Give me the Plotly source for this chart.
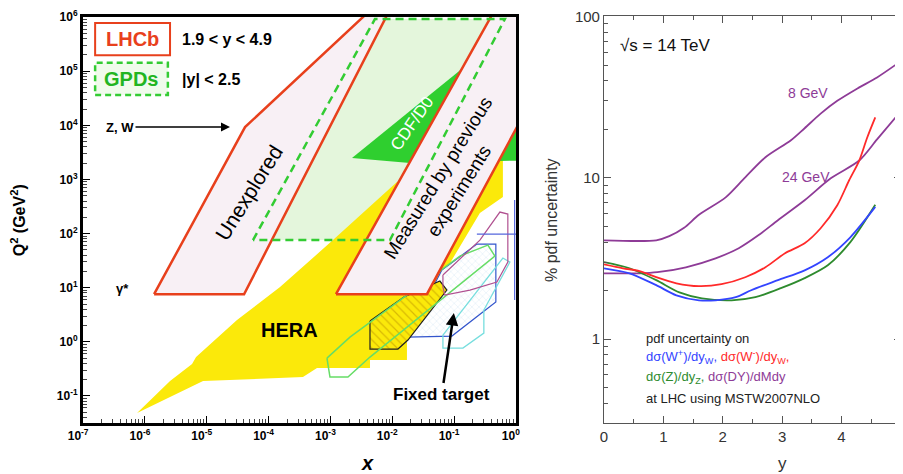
import plotly.graph_objects as go

# ================= LEFT PANEL: (x, Q^2) coverage, stored as log10 values =================
GPD_LOGX = [-4.252, -2.280, -0.178, -2.037]
GPD_LOGQ2 = [1.880, 5.963, 5.963, 1.880]

HERA_LOGX = [-6.127, -5.594, -5.238, -5.173, -4.511, -3.815, -2.959, -1.924, -1.067, -0.210,
             -0.210, -0.582, -1.229, -1.762, -1.762, -2.360, -2.360, -3.217, -3.444, -5.060, -5.594]
HERA_LOGQ2 = [-1.316, -0.725, -0.411, -0.281, 0.402, 1.012, 1.880, 2.952, 3.210, 3.414,
              2.675, 2.379, 1.141, 0.125, -0.337, -0.337, -0.484, -0.484, -0.651, -0.725, -1.020]

CDF_LOGX = [-2.651, -0.857, 0.388, 0.388, -1.714]
CDF_LOGQ2 = [3.395, 5.058, 5.760, 3.358, 3.303]

LHCB_LOW_LOGX = [-5.852, -4.397, -1.876, -2.005, -4.381]
LHCB_LOW_LOGQ2 = [0.88, 0.88, 6.5, 6.5, 3.968]
LHCB_HIGH_LOGX = [-2.910, -1.439, 1.212, -0.162]
LHCB_HIGH_LOGQ2 = [0.88, 0.88, 6.5, 6.5]

FT_BLACK_LOGX = [-2.360, -1.811, -1.229, -1.116, -1.746, -1.908, -2.360]
FT_BLACK_LOGQ2 = [0.384, 0.827, 1.123, 0.957, 0.033, -0.133, -0.133]
FT_GREEN_LOGX = [-3.056, -2.684, -0.906, -0.453, -0.340, -2.360, -2.716, -3.007]
FT_GREEN_LOGQ2 = [-0.300, 0.088, 1.585, 1.788, 1.585, -0.281, -0.651, -0.651]
FT_BLUE_LOGX = [-1.762, -1.035, -0.324, -0.324, -0.631, -1.197]
FT_BLUE_LOGQ2 = [0.088, 0.107, 0.735, 1.806, 1.806, 1.326]
FT_MAG_LOGX = [-1.180, -0.582, -0.259, -0.130, -0.130, -0.307, -0.744, -1.148, -1.180]
FT_MAG_LOGQ2 = [1.234, 1.880, 2.398, 2.361, 1.474, 1.104, 0.957, 0.864, 1.012]
FT_CYAN_LOGX = [-1.180, -0.210, -0.097, -0.421, -0.518, -0.518, -0.857, -1.180]
FT_CYAN_LOGQ2 = [0.125, 1.548, 1.474, 0.772, 0.587, 0.162, -0.115, -0.115]
FT_BLINE_LOGX = [-0.631, 0.064]
FT_BLINE_LOGQ2 = [1.991, 1.991]
FT_VLINE_LOGX = [-0.02, -0.02]
FT_VLINE_LOGQ2 = [2.619, 0.772]

X_TICK_EXP = [-7, -6, -5, -4, -3, -2, -1, 0]
Q2_TICK_EXP = [-1, 0, 1, 2, 3, 4, 5, 6]

# ================= RIGHT PANEL: % pdf uncertainty vs rapidity =================
Y_8GEV = [0, 0.88, 1.1, 1.35, 1.6, 2.05, 2.38, 2.72, 3.15, 3.38, 3.65, 3.93, 4.27, 4.6, 4.97]
U_8GEV = [4.1, 4.1, 4.35, 4.9, 5.9, 7.57, 10.07, 13.4, 17.1, 20.3, 25.0, 30.0, 35.8, 41.9, 51.9]
Y_24GEV = [0, 0.6, 0.9, 1.38, 1.88, 2.27, 2.6, 2.93, 3.38, 3.82, 4.3, 4.6, 4.97]
U_24GEV = [2.56, 2.56, 2.60, 2.79, 3.17, 3.66, 4.40, 5.46, 7.26, 9.93, 12.8, 17.3, 25.1]
Y_WMINUS = [0, 0.32, 0.6, 0.88, 1.22, 1.6, 1.98, 2.38, 2.72, 3.05, 3.38, 3.65, 3.93, 4.13, 4.3, 4.43, 4.57]
U_WMINUS = [2.91, 2.75, 2.64, 2.42, 2.22, 2.13, 2.19, 2.42, 2.79, 3.41, 3.93, 4.87, 6.76, 9.66, 12.8, 17.6, 23.7]
Y_WPLUS = [0, 0.43, 0.88, 1.22, 1.6, 1.88, 2.22, 2.48, 2.93, 3.38, 3.77, 4.15, 4.57]
U_WPLUS = [2.75, 2.56, 2.16, 1.87, 1.74, 1.74, 1.82, 2.01, 2.32, 2.67, 3.22, 4.28, 6.6]
Y_Z = [0, 0.43, 0.88, 1.27, 1.65, 2.15, 2.55, 2.98, 3.38, 3.77, 4.15, 4.57]
U_Z = [3.0, 2.75, 2.32, 1.95, 1.79, 1.74, 1.82, 2.07, 2.39, 2.87, 3.99, 6.8]

RED = '#e8401c'
FONT = 'Liberation Sans'

fig = go.Figure()


def poly(lx, lq, closed=True, **kw):
    xs = [10 ** v for v in lx]
    ys = [10 ** v for v in lq]
    if closed:
        xs = xs + xs[:1]
        ys = ys + ys[:1]
    fig.add_trace(go.Scatter(x=xs, y=ys, mode='lines', xaxis='x', yaxis='y',
                             showlegend=False, hoverinfo='skip', **kw))


poly(GPD_LOGX, GPD_LOGQ2, fill='toself', fillcolor='#e4f6dc', line=dict(width=0))
poly(HERA_LOGX, HERA_LOGQ2, fill='toself', fillcolor='#fbe90a', line=dict(width=0))
poly(CDF_LOGX, CDF_LOGQ2, fill='toself', fillcolor='#2fcf2f', line=dict(width=0))
poly(FT_BLUE_LOGX, FT_BLUE_LOGQ2, fill='toself',
     fillpattern=dict(shape='x', fgcolor='#a9cbe6', bgcolor='white', size=5, solidity=0.15),
     line=dict(color='#3355cc', width=1.2))
poly(FT_BLACK_LOGX, FT_BLACK_LOGQ2, fill='toself',
     fillpattern=dict(shape='\\', fgcolor='#b58a00', bgcolor='#fbe90a', size=6, solidity=0.2),
     line=dict(color='#222222', width=1.2))
poly(FT_CYAN_LOGX, FT_CYAN_LOGQ2, line=dict(color='#77dede', width=1.3))
poly(FT_GREEN_LOGX, FT_GREEN_LOGQ2, line=dict(color='#66dd66', width=1.5))
poly(FT_MAG_LOGX, FT_MAG_LOGQ2, line=dict(color='#b05090', width=1.2))
poly(FT_BLINE_LOGX, FT_BLINE_LOGQ2, closed=False, line=dict(color='#5566dd', width=1.2))
poly(FT_VLINE_LOGX, FT_VLINE_LOGQ2, closed=False, line=dict(color='#5566dd', width=1.2))
poly(LHCB_LOW_LOGX, LHCB_LOW_LOGQ2, fill='toself', fillcolor='#f8f0f5', line=dict(color=RED, width=2.5))
poly(LHCB_HIGH_LOGX, LHCB_HIGH_LOGQ2, fill='toself', fillcolor='#f8f0f5', line=dict(color=RED, width=2.5))
poly(GPD_LOGX, GPD_LOGQ2, line=dict(color='#33cc33', width=2.5, dash='8px,5px'))

# right panel curves
PURPLE = '#8e3b97'
for ys, us, col in [(Y_8GEV, U_8GEV, PURPLE), (Y_24GEV, U_24GEV, PURPLE),
                    (Y_Z, U_Z, '#2e8b2e'), (Y_WPLUS, U_WPLUS, '#3344ff'),
                    (Y_WMINUS, U_WMINUS, '#ff2a2a')]:
    fig.add_trace(go.Scatter(x=ys, y=us, mode='lines', xaxis='x2', yaxis='y2',
                             line=dict(color=col, width=1.8, shape='spline', smoothing=0.8),
                             showlegend=False, hoverinfo='skip'))

minor_left_x = [m * 10 ** e for e in range(-7, 0) for m in range(2, 10)]
minor_left_y = [m * 10 ** e for e in range(-2, 6) for m in range(2, 10)]
minor_right_y = [m * 10 ** e for e in range(-1, 2) for m in range(2, 10)]

fig.update_layout(
    width=895, height=466, margin=dict(l=0, r=0, t=0, b=0, autoexpand=False),
    paper_bgcolor='white', plot_bgcolor='white', showlegend=False,
    font=dict(family=FONT, color='black'),
    xaxis=dict(type='log', domain=[0.0838, 0.5676], range=[-7.002, 0.002], anchor='y', automargin=False,
               showline=True, mirror=True, linewidth=3, linecolor='black', showgrid=False,
               zeroline=False, ticks='inside', ticklen=7, tickwidth=1.2, tickcolor='black',
               tickvals=[10 ** e for e in X_TICK_EXP],
               ticktext=['<b>10<sup>%d</sup></b>' % e for e in X_TICK_EXP],
               tickfont=dict(size=12, family=FONT), ticklabelshift=-5, ticklabeloverflow='allow',
               minor=dict(tickvals=minor_left_x, ticks='inside', ticklen=4, tickcolor='#444', tickwidth=1)),
    yaxis=dict(type='log', domain=[0.1094, 0.9807], range=[-1.5, 6.002], anchor='x', automargin=False,
               showline=True, mirror=True, linewidth=3, linecolor='black', showgrid=False,
               zeroline=False, ticks='inside', ticklen=7, tickwidth=1.2, tickcolor='black',
               tickvals=[10 ** e for e in Q2_TICK_EXP],
               ticktext=['<b>10<sup>%d</sup></b>' % e for e in Q2_TICK_EXP],
               tickfont=dict(size=12, family=FONT), ticklabeloverflow='allow',
               minor=dict(tickvals=minor_left_y, ticks='inside', ticklen=4, tickcolor='#444', tickwidth=1)),
    xaxis2=dict(domain=[0.6659, 0.9978], range=[0, 5.004], anchor='y2', automargin=False,
                showline=True, mirror='ticks', linewidth=1, linecolor='#555', showgrid=False,
                zeroline=False, ticks='inside', ticklen=7, tickcolor='#555', dtick=1,
                tickfont=dict(size=15, color='#333'), ticklabeloverflow='allow',
                minor=dict(dtick=0.5, ticks='inside', ticklen=4, tickcolor='#555')),
    yaxis2=dict(type='log', domain=[0.1094, 0.9828], range=[-0.52, 2.003], anchor='x2', automargin=False,
                showline=True, mirror='ticks', linewidth=1, linecolor='#555', showgrid=False,
                zeroline=False, ticks='inside', ticklen=7, tickcolor='#555', dtick=1,
                tickfont=dict(size=15, color='#333'), ticklabeloverflow='allow',
                minor=dict(tickvals=minor_right_y, ticks='inside', ticklen=4, tickcolor='#555')),
)

# legend boxes (left panel)
fig.add_shape(type='rect', xref='x domain', yref='y domain', x0=0.028, x1=0.201, y0=0.906, y1=0.985,
              line=dict(color=RED, width=2), fillcolor='white')
fig.add_shape(type='rect', xref='x domain', yref='y domain', x0=0.028, x1=0.196, y0=0.808, y1=0.887,
              line=dict(color='#33cc33', width=2.5, dash='6px,4px'), fillcolor='#f0fbec')

C = dict(xanchor='center', yanchor='middle', showarrow=False)
ann = []
ann.append(dict(xref='x domain', yref='y domain', x=0.114, y=0.946, text='<b>LHCb</b>',
                font=dict(size=20, color=RED), **C))
ann.append(dict(xref='x domain', yref='y domain', x=0.224, y=0.944, xanchor='left', yanchor='middle',
                text='<b>1.9 &lt; y &lt; 4.9</b>', font=dict(size=16), showarrow=False))
ann.append(dict(xref='x domain', yref='y domain', x=0.112, y=0.847, text='<b>GPDs</b>',
                font=dict(size=20, color='#22b522'), **C))
ann.append(dict(xref='x domain', yref='y domain', x=0.224, y=0.845, xanchor='left', yanchor='middle',
                text='<b>|y| &lt; 2.5</b>', font=dict(size=16), showarrow=False))
ann.append(dict(xref='x', yref='y', x=-4.333, y=2.749, text='Unexplored', textangle=-58,
                font=dict(size=21), **C))
ann.append(dict(xref='x', yref='y', x=-1.083, y=2.915, text='Measured by previous<br>experiments',
                textangle=-58, font=dict(size=19), **C))
ann.append(dict(xref='x', yref='y', x=-1.682, y=4.042, text='CDF/D0', textangle=-55,
                font=dict(size=17, color='white'), **C))
ann.append(dict(xref='x', yref='y', x=-3.654, y=0.218, text='<b>HERA</b>',
                font=dict(size=20), **C))
ann.append(dict(xref='x', yref='y', x=-1.003, y=0.532, text='<b>Fixed target</b>',
                font=dict(size=17), showarrow=True, ax=-12, ay=81, arrowhead=2,
                arrowsize=1, arrowwidth=2.5, arrowcolor='black'))
ann.append(dict(xref='x', yref='y', x=-4.624, y=3.968, text='<b>Z, W</b>',
                font=dict(size=13), showarrow=True, ax=-110, ay=0, arrowhead=2,
                arrowsize=1.2, arrowwidth=1.5, arrowcolor='black'))
ann.append(dict(xref='x', yref='y', x=-6.370, y=0.994, text='<b>γ*</b>',
                font=dict(size=13), **C))
ann.append(dict(xref='paper', yref='paper', x=0.0115, y=0.545, text='<b>Q<sup>2</sup> (GeV<sup>2</sup>)</b>',
                textangle=-90, font=dict(size=16), **C))
ann.append(dict(xref='paper', yref='paper', x=0.4022, y=0.0236, text='<b><i>x</i></b>',
                font=dict(size=20), **C))

# right panel text
ann.append(dict(xref='paper', yref='paper', x=0.6067, y=0.545, text='% pdf uncertainty',
                textangle=-90, font=dict(size=16, color='#333'), **C))
ann.append(dict(xref='paper', yref='paper', x=0.8659, y=0.0236, text='y',
                font=dict(size=17, color='#333'), **C))
L = dict(xanchor='left', yanchor='middle', showarrow=False)
ann.append(dict(xref='x2', yref='y2', x=0.23, y=1.820, text='√s = 14 TeV',
                font=dict(size=17, color='#111'), **L))
ann.append(dict(xref='x2', yref='y2', x=3.43, y=1.523, text='8 GeV',
                font=dict(size=14, color=PURPLE), **C))
ann.append(dict(xref='x2', yref='y2', x=3.40, y=1.003, text='24 GeV',
                font=dict(size=14, color=PURPLE), **C))
ann.append(dict(xref='x2', yref='y2', x=0.68, y=0.006, text='pdf uncertainty on',
                font=dict(size=13, color='#222'), **L))
ann.append(dict(xref='x2', yref='y2', x=0.68, y=-0.111,
                text='<span style="color:#3344ff">dσ(W<sup>+</sup>)/dy<sub>W</sub>,</span> '
                     '<span style="color:#ff2a2a">dσ(W<sup>-</sup>)/dy<sub>W</sub>,</span>',
                font=dict(size=13), **L))
ann.append(dict(xref='x2', yref='y2', x=0.68, y=-0.235,
                text='<span style="color:#2e8b2e">dσ(Z)/dy<sub>Z</sub>,</span> '
                     '<span style="color:#8e3b97">dσ(DY)/dMdy</span>',
                font=dict(size=13), **L))
ann.append(dict(xref='x2', yref='y2', x=0.68, y=-0.365, text='at LHC using MSTW2007NLO',
                font=dict(size=13, color='#222'), **L))

fig.update_layout(annotations=ann)
fig.write_html('out.html')
